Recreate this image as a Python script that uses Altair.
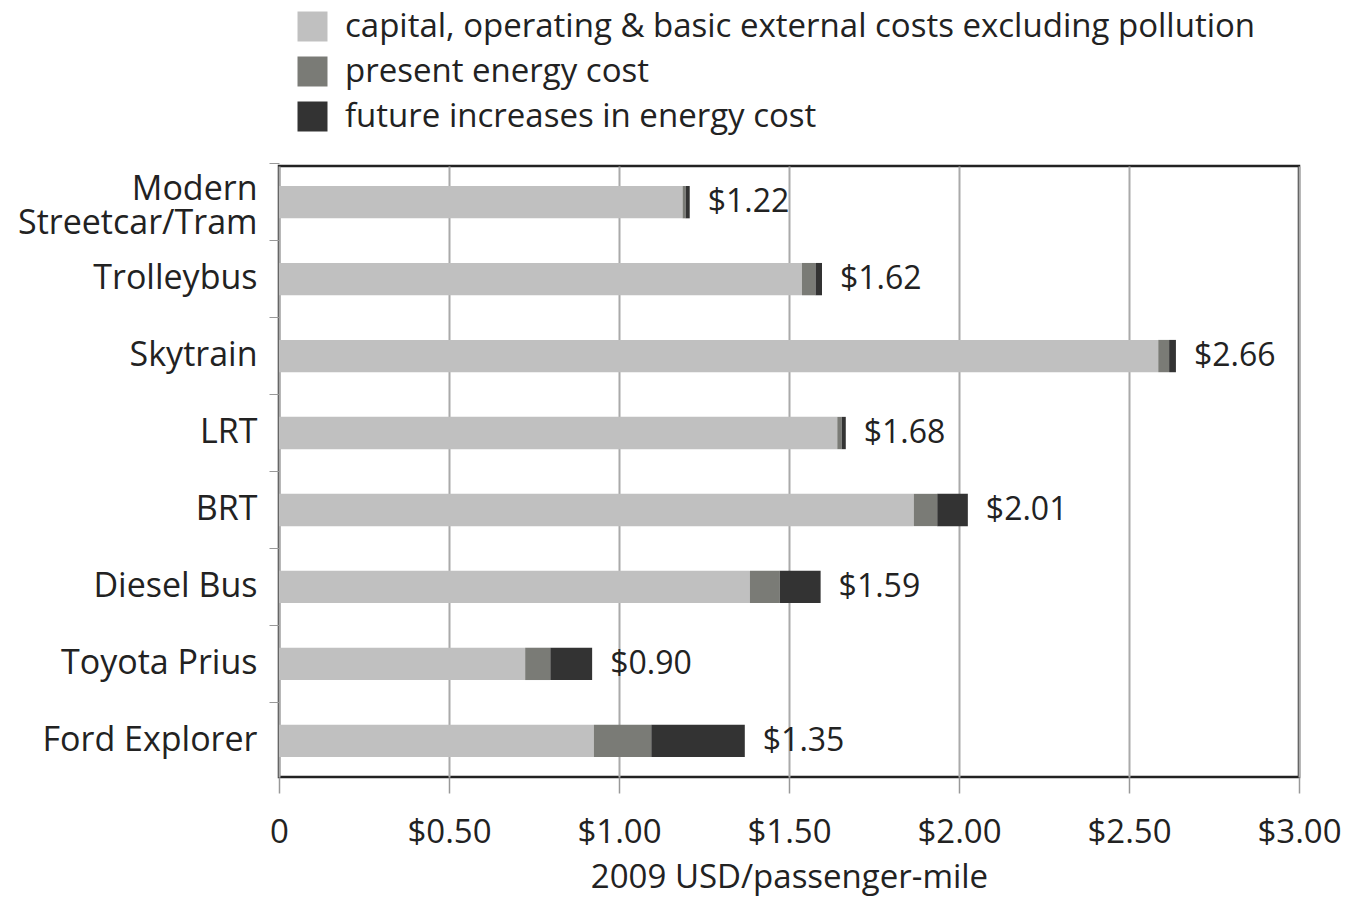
import altair as alt
import pandas as pd

categories = ["Modern|Streetcar/Tram", "Trolleybus", "Skytrain", "LRT", "BRT",
              "Diesel Bus", "Toyota Prius", "Ford Explorer"]
base_cost = [1.187, 1.538, 2.586, 1.642, 1.867, 1.385, 0.724, 0.926]
present_energy = [0.009, 0.040, 0.032, 0.013, 0.069, 0.088, 0.074, 0.169]
future_energy = [0.012, 0.019, 0.020, 0.012, 0.090, 0.120, 0.123, 0.275]
labels = ["$1.22", "$1.62", "$2.66", "$1.68", "$2.01", "$1.59", "$0.90", "$1.35"]

series = ["capital, operating & basic external costs excluding pollution",
          "present energy cost",
          "future increases in energy cost"]
colors = ["#c0c0c0", "#7a7b76", "#333333"]
tick_values = [0, 0.5, 1, 1.5, 2, 2.5, 3]

rows = []
for i, c in enumerate(categories):
    for j, vals in enumerate([base_cost, present_energy, future_energy]):
        rows.append({"category": c, "series": series[j], "value": vals[i], "order": j})
df = pd.DataFrame(rows)

tot = pd.DataFrame({
    "category": categories,
    "total": [b + p + f for b, p, f in zip(base_cost, present_energy, future_energy)],
    "label": labels,
})

FONT = "Open Sans"
TXT = "#222222"

y_enc = alt.Y("category:N", sort=categories, title=None,
              scale=alt.Scale(paddingInner=0.58, paddingOuter=0.26),
              axis=alt.Axis(labelExpr="split(datum.label, '|')", labelFontSize=34,
                            labelFont=FONT, labelColor=TXT, labelLineHeight=34,
                            labelPadding=12, tickSize=10, tickColor="#999",
                            labelOffset={"condition": {"test": "datum.value == 'Modern|Streetcar/Tram'",
                                                       "value": -12}, "value": 0},
                            bandPosition=-0.69, domain=False, ticks=True, grid=False,
                            labelLimit=400))

bars = alt.Chart(df).mark_bar().encode(
    x=alt.X("value:Q", stack="zero", title="2009 USD/passenger-mile",
            scale=alt.Scale(domain=[0, 3], nice=False),
            axis=alt.Axis(values=tick_values,
                          labelExpr="datum.value == 0 ? '0' : '$' + format(datum.value, '.2f')",
                          labelFontSize=33, labelFont=FONT, labelColor=TXT, labelFlush=False,
                          titleFontSize=33, titleFont=FONT, titleFontWeight="normal",
                          titleColor=TXT, titlePadding=12, labelPadding=23,
                          tickSize=16, tickColor="#999", tickWidth=1.5,
                          grid=True, gridColor="#aaaaaa", gridWidth=2, domain=False)),
    y=y_enc,
    color=alt.Color("series:N", scale=alt.Scale(domain=series, range=colors),
                    legend=alt.Legend(orient="none", legendX=17, legendY=-156,
                                      title=None, symbolType="square", symbolSize=900,
                                      symbolStrokeWidth=0, labelFontSize=33,
                                      labelFont=FONT, labelColor=TXT,
                                      labelOffset=16, rowPadding=11, labelLimit=1000)),
    order=alt.Order("order:Q"),
)

text = alt.Chart(tot).mark_text(align="left", baseline="middle", dx=18, fontSize=32,
                                font=FONT, color=TXT).encode(
    x="total:Q",
    y=alt.Y("category:N", sort=categories),
    text="label:N",
)

chart = (bars + text).properties(
    width=1020, height=611,
    padding={"left": 9, "top": 2, "right": 0, "bottom": 5},
).configure_view(stroke="#222", strokeWidth=2.5)

chart.save("out.html", embed_options={"renderer": "svg", "actions": False})
